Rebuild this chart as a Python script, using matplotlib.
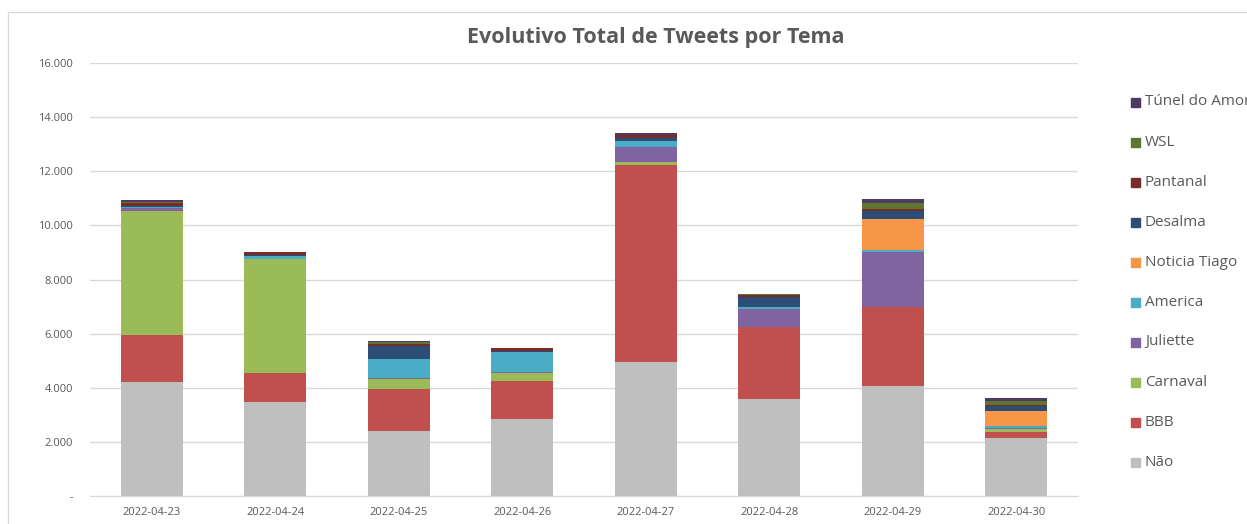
import matplotlib.pyplot as plt
import numpy as np
from matplotlib.patches import Rectangle
from matplotlib.ticker import FuncFormatter

dates = ['2022-04-23', '2022-04-24', '2022-04-25', '2022-04-26',
         '2022-04-27', '2022-04-28', '2022-04-29', '2022-04-30']

# stacked from bottom to top
temas = ['Não', 'BBB', 'Carnaval', 'Juliette', 'America',
         'Noticia Tiago', 'Desalma', 'Pantanal', 'WSL', 'Túnel do Amor']

nao = [4210, 3470, 2400, 2845, 4950, 3585, 4065, 2145]
bbb = [1740, 1075, 1565, 1390, 7280, 2660, 2905, 235]
carnaval = [4580, 4200, 345, 295, 110, 0, 30, 85]
juliette = [100, 30, 35, 60, 555, 665, 2030, 60]
america = [50, 100, 700, 740, 210, 85, 75, 75]
noticia_tiago = [0, 0, 0, 0, 0, 0, 1145, 530]
desalma = [50, 30, 490, 20, 120, 340, 295, 185]
pantanal = [110, 120, 100, 120, 110, 85, 50, 35]
wsl = [30, 0, 70, 0, 0, 30, 245, 160]
tunel_do_amor = [60, 0, 25, 10, 60, 30, 135, 110]

series = [nao, bbb, carnaval, juliette, america, noticia_tiago,
          desalma, pantanal, wsl, tunel_do_amor]
colors = ['#BFBFBF', '#C0504D', '#9BBB59', '#8064A2', '#4BACC6',
          '#F79646', '#2C4D75', '#772C2A', '#5F7530', '#4D3B62']

plt.rcParams['font.family'] = ['Open Sans', 'DejaVu Sans']
txt = '#595959'

fig = plt.figure(figsize=(12.47, 5.24), dpi=100)
ax = fig.add_axes([90 / 1247, 28 / 524, 988 / 1247, 433 / 524])

x = np.arange(len(dates))
bottom = np.zeros(len(dates))
for name, vals, c in zip(temas, series, colors):
    ax.bar(x, vals, 0.5, bottom=bottom, color=c, label=name,
           edgecolor='none', zorder=3)
    bottom += np.array(vals)

ax.set_xlim(-0.5, 7.5)
ax.set_ylim(0, 16000)
ax.set_yticks(np.arange(0, 16001, 2000))
ax.yaxis.set_major_formatter(FuncFormatter(
    lambda v, p: '-' if v == 0 else f'{int(v):,}'.replace(',', '.')))
ax.set_xticks(x)
ax.set_xticklabels(dates)
ax.tick_params(axis='both', labelsize=8, colors=txt, length=0)
ax.tick_params(axis='y', pad=12)
ax.tick_params(axis='x', pad=8)
ax.grid(axis='y', color='#D9D9D9', linewidth=1, zorder=0)
for s in ['top', 'right', 'left']:
    ax.spines[s].set_visible(False)
ax.spines['bottom'].set_color('#D9D9D9')

fig.text(656 / 1247, 1 - 37 / 524, 'Evolutivo Total de Tweets por Tema',
         ha='center', va='center', fontsize=15.5, fontweight='bold', color=txt)

# legend, top entry first (reverse order of stacking)
y0 = 102
for i, (name, c) in enumerate(zip(temas[::-1], colors[::-1])):
    yy = 1 - (y0 + i * 40) / 524
    fig.patches.append(Rectangle((1131 / 1247, yy - 5 / 524), 9 / 1247, 9 / 524,
                                 transform=fig.transFigure, color=c))
    fig.text(1145 / 1247, yy, name, ha='left', va='center',
             fontsize=11, color=txt)

# chart border
fig.patches.append(Rectangle((8 / 1247, -0.01), 1.02, 1 - 12 / 524 + 0.01,
                             transform=fig.transFigure, fill=False,
                             edgecolor='#D9D9D9', linewidth=1))

fig.savefig('out.png', dpi=100)
